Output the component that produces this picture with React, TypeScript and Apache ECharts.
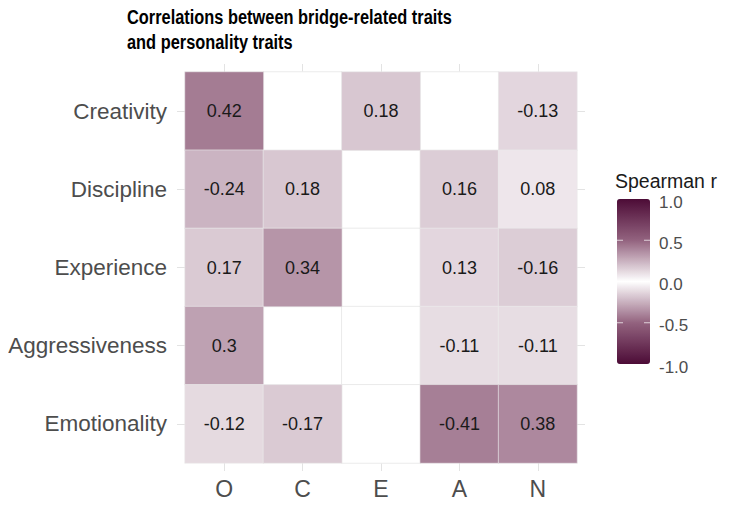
import React, { useEffect, useRef } from "react";
import * as echarts from "echarts";

const columns = ["O", "C", "E", "A", "N"];
const rows = ["Creativity", "Discipline", "Experience", "Aggressiveness", "Emotionality"];
const creativity = [0.42, null, 0.18, null, -0.13];
const discipline = [-0.24, 0.18, null, 0.16, 0.08];
const experience = [0.17, 0.34, null, 0.13, -0.16];
const aggressiveness = [0.3, null, null, -0.11, -0.11];
const emotionality = [-0.12, -0.17, null, -0.41, 0.38];
const legendTicks = [1.0, 0.5, 0.0, -0.5, -1.0];
const legendTickLabels = ["1.0", "0.5", "0.0", "-0.5", "-1.0"];
const titleLines = ["Correlations between bridge-related traits", "and personality traits"];

const matrix = [creativity, discipline, experience, aggressiveness, emotionality];

const GRID_LEFT = 185;
const GRID_TOP = 72;
const GRID_W = 392;
const GRID_H = 391;
const BAR_LEFT = 617;
const BAR_TOP = 199;
const BAR_W = 33;
const BAR_H = 165;

const App: React.FC = () => {
  const ref = useRef<HTMLDivElement>(null);
  useEffect(() => {
    if (!ref.current) return;
    const chart = echarts.init(ref.current, undefined, { renderer: "svg" });
    const filled: any[] = [];
    const empty: any[] = [];
    matrix.forEach((row, yi) => {
      row.forEach((v, xi) => {
        if (v === null) empty.push([xi, yi, 0]);
        else filled.push([xi, yi, v]);
      });
    });
    const font = "'Liberation Sans', Arial, Helvetica, sans-serif";
    const tickColor = "#e3e3e3";
    const graphics: any[] = [
      {
        type: "text",
        x: 127,
        y: 4,
        scaleX: 0.78,
        style: {
          text: titleLines.join("\n"),
          font: `bold 21px ${font}`,
          lineHeight: 25,
          fill: "#000000",
          verticalAlign: "top",
          align: "left",
        },
      },
      {
        type: "text",
        x: 615,
        y: 181,
        style: {
          text: "Spearman r",
          font: `19.5px ${font}`,
          fill: "#1a1a1a",
          verticalAlign: "middle",
          align: "left",
        },
      },
    ];
    legendTicks.forEach((t, i) => {
      const y = BAR_TOP + (1 - (t + 1) / 2) * BAR_H;
      graphics.push({
        type: "text",
        x: 659,
        y: y + 3,
        style: {
          text: legendTickLabels[i],
          font: `17px ${font}`,
          fill: "#4d4d4d",
          verticalAlign: "middle",
          align: "left",
        },
      });
      if (Math.abs(t) !== 1) {
        graphics.push({
          type: "line",
          shape: { x1: BAR_LEFT, y1: y, x2: BAR_LEFT + 6, y2: y },
          style: { stroke: "rgba(255,255,255,0.7)", lineWidth: 1 },
          z: 100,
        });
        graphics.push({
          type: "line",
          shape: { x1: BAR_LEFT + BAR_W - 6, y1: y, x2: BAR_LEFT + BAR_W, y2: y },
          style: { stroke: "rgba(255,255,255,0.7)", lineWidth: 1 },
          z: 100,
        });
      }
    });
    const hiddenAxis = {
      axisLine: { show: false },
      axisLabel: { show: false },
      splitLine: { show: false },
    };
    chart.setOption({
      animation: false,
      backgroundColor: "#ffffff",
      grid: { left: GRID_LEFT, top: GRID_TOP, width: GRID_W, height: GRID_H },
      xAxis: [
        {
          type: "category",
          data: columns,
          position: "bottom",
          axisLine: { show: false },
          axisTick: { show: true, alignWithLabel: true, length: 8, lineStyle: { color: tickColor } },
          axisLabel: { color: "#4d4d4d", fontSize: 23, fontFamily: font, margin: 14 },
          splitLine: { show: false },
        },
        {
          type: "category",
          data: columns,
          position: "top",
          axisTick: { show: true, alignWithLabel: true, length: 8, lineStyle: { color: tickColor } },
          ...hiddenAxis,
        },
      ],
      yAxis: [
        {
          type: "category",
          data: rows,
          inverse: true,
          position: "left",
          axisLine: { show: false },
          axisTick: { show: true, alignWithLabel: true, length: 8, lineStyle: { color: tickColor } },
          axisLabel: { color: "#4d4d4d", fontSize: 22.5, fontFamily: font, margin: 18 },
          splitLine: { show: false },
        },
        {
          type: "category",
          data: rows,
          inverse: true,
          position: "right",
          axisTick: { show: true, alignWithLabel: true, length: 8, lineStyle: { color: tickColor } },
          ...hiddenAxis,
        },
      ],
      visualMap: [
        {
          type: "continuous",
          min: -1,
          max: 1,
          seriesIndex: [1],
          calculable: false,
          orient: "vertical",
          left: BAR_LEFT,
          top: BAR_TOP,
          itemWidth: BAR_W,
          itemHeight: BAR_H,
          padding: 0,
          text: ["", ""],
          showLabel: false,
          inRange: {
            color: ["#4c0b36", "#93637f", "#ffffff", "#93637f", "#4c0b36"],
          },
        },
        {
          type: "continuous",
          show: false,
          min: -1,
          max: 1,
          seriesIndex: [0],
          inRange: { color: ["#ffffff", "#ffffff"] },
        },
      ],
      graphic: graphics,
      series: [
        {
          type: "heatmap",
          data: empty,
          itemStyle: { borderColor: "#ebebeb", borderWidth: 1 },
          label: { show: false },
          emphasis: { disabled: true },
        },
        {
          type: "heatmap",
          data: filled,
          itemStyle: { borderColor: "rgba(235,235,235,0.6)", borderWidth: 1 },
          label: {
            show: true,
            color: "#1a1a1a",
            fontSize: 18,
            fontFamily: font,
            formatter: (p: any) => String(p.value[2]),
          },
          emphasis: { disabled: true },
        },
      ],
    });
    return () => chart.dispose();
  }, []);
  return <div ref={ref} style={{ width: 733, height: 505, margin: -8 }} />;
};

export default App;
